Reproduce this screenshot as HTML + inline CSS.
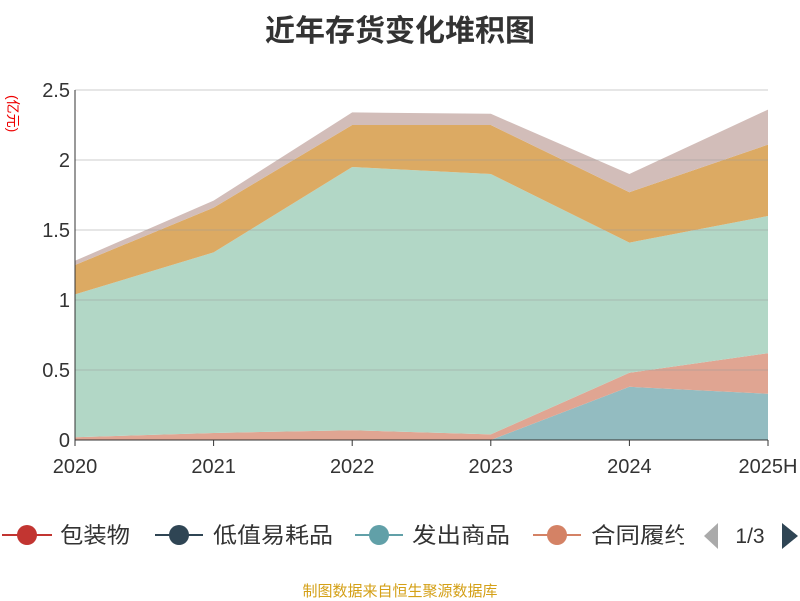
<!DOCTYPE html>
<html><head><meta charset="utf-8"><style>
body{margin:0;width:800px;height:600px;background:#fff;font-family:"Liberation Sans","Noto Sans CJK SC",sans-serif;overflow:hidden;position:relative}
.t{position:absolute}
</style></head><body>
<div class="t" style="left:0;width:800px;top:6px;text-align:center;font-size:30px;font-weight:bold;color:#333">近年存货变化堆积图</div>
<div class="t" style="left:-12px;top:110px;width:50px;font-size:14px;color:#e00;white-space:nowrap;transform:rotate(90deg);transform-origin:center">(亿元)</div>
<svg id="c" width="800" height="600" style="position:absolute;left:0;top:0"></svg>
<div class="t" style="left:0;width:800px;top:580px;text-align:center;font-size:15px;color:#d4a017">制图数据来自恒生聚源数据库</div>
<script>
const categories=["2020","2021","2022","2023","2024","2025H"];
const fachu=[0,0,0,0,0.38,0.33];
const hetong=[0.02,0.05,0.07,0.04,0.10,0.29];
const green=[1.02,1.29,1.88,1.86,0.93,0.98];
const orange=[0.21,0.32,0.30,0.35,0.36,0.51];
const brown=[0.03,0.05,0.09,0.08,0.13,0.25];
const yTicks=[0,0.5,1,1.5,2,2.5];
const yTickLabels=["0","0.5","1","1.5","2","2.5"];
const series=[fachu,hetong,green,orange,brown];
const colors=["#93bcc1","#e0a592","#b2d7c6","#dcaa63","#d2bdb9"];
const names=["area-fachu","area-hetong","area-main","area-orange","area-top"];
const NS="http://www.w3.org/2000/svg",svg=document.getElementById("c");
const x=i=>75+i*(768-75)/(categories.length-1);
const y=v=>440-v*140;
function mk(t,a){const e=document.createElementNS(NS,t);for(const k in a)e.setAttribute(k,a[k]);svg.appendChild(e);return e;}
let base=categories.map(()=>0);
series.forEach((s,k)=>{
 const top=base.map((b,i)=>b+s[i]);
 let d="M"+top.map((v,i)=>x(i)+","+y(v)).join("L");
 for(let i=base.length-1;i>=0;i--)d+="L"+x(i)+","+y(base[i]);
 const p=mk("path",{d:d+"Z",fill:colors[k]});
 
 
 base=top;
});
yTicks.forEach((v,i)=>{
 if(v>0){const g=mk("line",{x1:75,x2:768,y1:y(v),y2:y(v),stroke:"#999","stroke-opacity":0.5});
 
 }
 const t=mk("text",{x:70,y:y(v)+7,"text-anchor":"end","font-size":20,fill:"#333"});t.textContent=yTickLabels[i];
 
 
});
const ax=mk("line",{x1:75,x2:768,y1:440,y2:440,stroke:"#333"});


const ay=mk("line",{x1:75,x2:75,y1:90,y2:440,stroke:"#333"});


categories.forEach((c,i)=>{
 const tk=mk("line",{x1:x(i),x2:x(i),y1:440,y2:446,stroke:"#333"});
 
 
 const t=mk("text",{x:x(i),y:473,"text-anchor":"middle","font-size":20,fill:"#333"});t.textContent=c;
 
 
});
</script>
<div style="position:absolute;left:0;top:515px;width:800px;height:40px;overflow:hidden">
 <svg width="800" height="40" style="position:absolute;left:0;top:0">
  <g><line x1="2" x2="52" y1="20" y2="20" stroke="#c23531" stroke-width="2"/><circle cx="27" cy="20" r="10" fill="#c23531"/><text x="60" y="28" font-size="22" fill="#333" textLength="70" lengthAdjust="spacingAndGlyphs">包装物</text></g>
  <g><line x1="155" x2="203" y1="20" y2="20" stroke="#2f4554" stroke-width="2"/><circle cx="179" cy="20" r="10" fill="#2f4554"/><text x="213" y="28" font-size="22" fill="#333" textLength="120" lengthAdjust="spacingAndGlyphs">低值易耗品</text></g>
  <g><line x1="355" x2="403" y1="20" y2="20" stroke="#61a0a8" stroke-width="2"/><circle cx="379" cy="20" r="10" fill="#61a0a8"/><text x="412" y="28" font-size="22" fill="#333" textLength="98" lengthAdjust="spacingAndGlyphs">发出商品</text></g>
  <g><line x1="533" x2="581" y1="20" y2="20" stroke="#d48265" stroke-width="2"/><circle cx="557" cy="20" r="10" fill="#d48265"/><text x="591" y="28" font-size="22" fill="#333" textLength="98" lengthAdjust="spacingAndGlyphs">合同履约</text></g>
  <rect x="684" y="0" width="116" height="40" fill="#fff"/>
  <polygon points="718,8 718,34 704,21" fill="#aaa"/>
  <text x="750" y="28" font-size="21" fill="#333" text-anchor="middle">1/3</text>
  <polygon points="782,8 782,34 798,21" fill="#2f4554"/>
 </svg>
</div>
</body></html>
